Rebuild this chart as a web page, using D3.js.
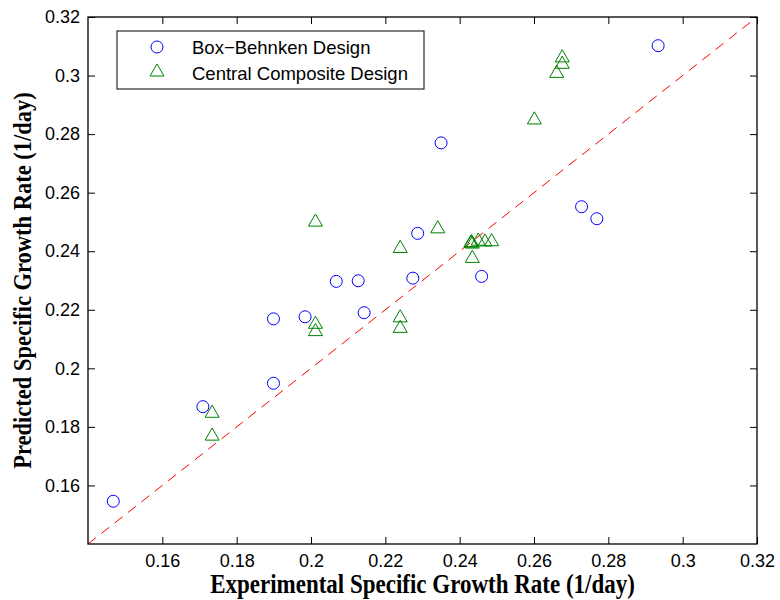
<!DOCTYPE html>
<html>
<head>
<meta charset="utf-8">
<script src="https://cdn.jsdelivr.net/npm/d3@7"></script>
<style>
  body { margin: 0; background: #fff; }
  svg { display: block; }
</style>
</head>
<body>
<svg id="chart"></svg>
<script>
// Box-Behnken design: experimental vs predicted growth rate
var bbdExperimental = [0.1468, 0.1709, 0.1899, 0.1899, 0.1984, 0.2068, 0.2127, 0.2143, 0.2274, 0.2287, 0.2350, 0.2459, 0.2728, 0.2769, 0.2934];
var bbdPredicted    = [0.1546, 0.1869, 0.1949, 0.2169, 0.2176, 0.2297, 0.2299, 0.2190, 0.2308, 0.2461, 0.2770, 0.2314, 0.2552, 0.2511, 0.3102];

// Central composite design
var ccdExperimental = [0.1734, 0.1734, 0.2012, 0.2012, 0.2012, 0.2240, 0.2240, 0.2240, 0.2341, 0.2430, 0.2432, 0.2434, 0.2450, 0.2468, 0.2486, 0.2434, 0.2601, 0.2661, 0.2676, 0.2676];
var ccdPredicted    = [0.1850, 0.1772, 0.2154, 0.2129, 0.2503, 0.2413, 0.2176, 0.2140, 0.2480, 0.2431, 0.2433, 0.2428, 0.2438, 0.2435, 0.2436, 0.2379, 0.2852, 0.3011, 0.3042, 0.3064];

var xTicks = [0.16, 0.18, 0.2, 0.22, 0.24, 0.26, 0.28, 0.3, 0.32];
var yTicks = [0.16, 0.18, 0.2, 0.22, 0.24, 0.26, 0.28, 0.3, 0.32];
var axisRange = [0.14, 0.32];

var seriesNames = ["Box\u2212Behnken Design", "Central Composite Design"];

var chart_width = 780;
var chart_height = 600;
var margin = { top: 17, right: 23, bottom: 56, left: 88 };
var width = chart_width - margin.left - margin.right;
var height = chart_height - margin.top - margin.bottom;

var svg = d3.select("#chart")
    .attr("width", chart_width)
    .attr("height", chart_height);

var g = svg.append("g")
    .attr("transform", "translate(" + margin.left + "," + margin.top + ")");

var x = d3.scaleLinear().domain(axisRange).range([0, width]);
var y = d3.scaleLinear().domain(axisRange).range([height, 0]);

var fmt = function(d) { return String(+d.toFixed(2)); };
var tickFont = "Liberation Sans, Arial, sans-serif";
var labelFont = "Liberation Serif, Times New Roman, serif";

// axes with inward ticks (box style)
function styleAxis(sel) {
    sel.select(".domain").remove();
    sel.selectAll("line").attr("stroke", "#000").attr("stroke-width", 1);
    sel.selectAll("text").attr("font-family", tickFont).attr("font-size", 18).attr("fill", "#000");
}

g.append("g")
    .attr("transform", "translate(0," + height + ")")
    .call(d3.axisBottom(x).tickValues(xTicks).tickFormat(fmt).tickSizeInner(-7).tickSizeOuter(0).tickPadding(10))
    .call(styleAxis);

g.append("g")
    .call(d3.axisTop(x).tickValues(xTicks).tickFormat("").tickSizeInner(-7).tickSizeOuter(0))
    .call(styleAxis);

g.append("g")
    .call(d3.axisLeft(y).tickValues(yTicks).tickFormat(fmt).tickSizeInner(-7).tickSizeOuter(0).tickPadding(8))
    .call(styleAxis);

g.append("g")
    .attr("transform", "translate(" + width + ",0)")
    .call(d3.axisRight(y).tickValues(yTicks).tickFormat("").tickSizeInner(-7).tickSizeOuter(0))
    .call(styleAxis);

// 1:1 dashed line
g.append("line")
    .attr("x1", x(axisRange[0])).attr("y1", y(axisRange[0]))
    .attr("x2", x(axisRange[1])).attr("y2", y(axisRange[1]))
    .attr("stroke", "#ff0000")
    .attr("stroke-width", 1)
    .attr("stroke-dasharray", "10,7");

// points
var bbd = bbdExperimental.map(function(d, i) { return { x: d, y: bbdPredicted[i] }; });
var ccd = ccdExperimental.map(function(d, i) { return { x: d, y: ccdPredicted[i] }; });

var circleR = 6;
var tri = d3.symbol().type(d3.symbolTriangle).size(85);

g.append("g")
    .selectAll("circle")
    .data(bbd)
    .enter()
    .append("circle")
    .attr("cx", function(d) { return x(d.x); })
    .attr("cy", function(d) { return y(d.y); })
    .attr("r", circleR)
    .attr("fill", "none")
    .attr("stroke", "#0000ff")
    .attr("stroke-width", 1);

g.append("g")
    .selectAll("path")
    .data(ccd)
    .enter()
    .append("path")
    .attr("d", tri)
    .attr("transform", function(d) { return "translate(" + x(d.x) + "," + (y(d.y) + 1) + ")"; })
    .attr("fill", "none")
    .attr("stroke", "#008000")
    .attr("stroke-width", 1);

// box frame
g.append("rect")
    .attr("width", width)
    .attr("height", height)
    .attr("fill", "none")
    .attr("stroke", "#000")
    .attr("stroke-width", 1.3);

// legend
var legend = svg.append("g").attr("transform", "translate(117,31)");
legend.append("rect")
    .attr("width", 307)
    .attr("height", 58)
    .attr("fill", "#fff")
    .attr("stroke", "#000")
    .attr("stroke-width", 1);

legend.append("circle")
    .attr("cx", 40).attr("cy", 16).attr("r", circleR)
    .attr("fill", "none").attr("stroke", "#0000ff");
legend.append("path")
    .attr("d", tri)
    .attr("transform", "translate(40,41)")
    .attr("fill", "none").attr("stroke", "#008000");

legend.selectAll("text")
    .data(seriesNames)
    .enter()
    .append("text")
    .attr("x", 75)
    .attr("y", function(d, i) { return 23 + i * 26; })
    .attr("font-family", tickFont)
    .attr("font-size", 18.5)
    .text(function(d) { return d; });

// axis titles
svg.append("text")
    .attr("transform", "translate(" + (margin.left + width / 2) + ",593) scale(1,1.15)")
    .attr("text-anchor", "middle")
    .attr("font-family", labelFont)
    .attr("font-weight", "bold")
    .attr("font-size", 23)
    .text("Experimental Specific Growth Rate (1/day)");

svg.append("text")
    .attr("transform", "translate(31," + (margin.top + height / 2) + ") rotate(-90) scale(1,1.1)")
    .attr("text-anchor", "middle")
    .attr("font-family", labelFont)
    .attr("font-weight", "bold")
    .attr("font-size", 22.5)
    .text("Predicted Specific Growth Rate (1/day)");
</script>
</body>
</html>
